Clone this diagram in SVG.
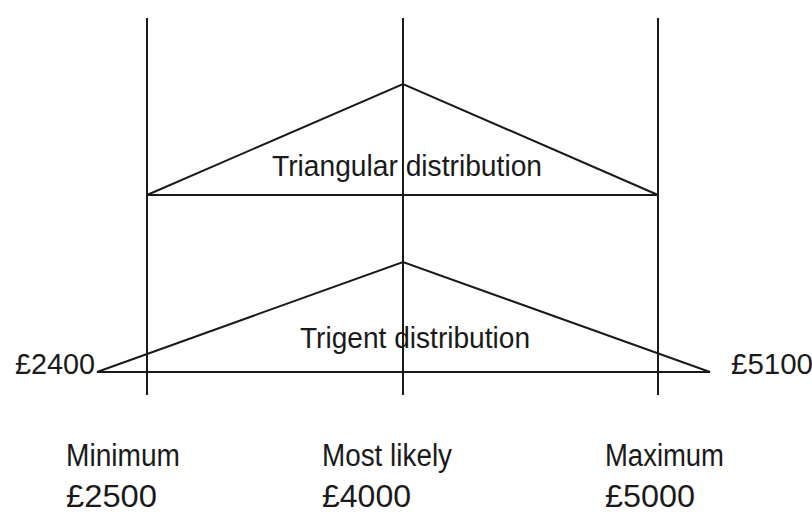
<svg xmlns="http://www.w3.org/2000/svg" width="812" height="516" viewBox="0 0 812 516">
<style>
.ln{stroke:#1a1a1a;stroke-width:2;fill:none}
.t{font-family:"Liberation Sans",Arial,sans-serif;font-size:29px;fill:#1a1a1a}
.b{font-size:31px}
</style>
<rect width="812" height="516" fill="#fff"/>
<g id="connectors">
<line class="ln" x1="147" y1="18" x2="147" y2="395"/>
<line class="ln" x1="403" y1="18" x2="403" y2="395"/>
<line class="ln" x1="658" y1="18" x2="658" y2="395"/>
</g>
<g id="triangular">
<polygon class="ln" points="147,195 403,84 658,195"/>
<text class="t" x="272" y="176" textLength="270" lengthAdjust="spacingAndGlyphs">Triangular distribution</text>
</g>
<g id="trigent">
<polygon class="ln" points="97,372 403,262 710,372"/>
<text class="t" x="300" y="348" textLength="230" lengthAdjust="spacingAndGlyphs">Trigent distribution</text>
<text class="t" x="15" y="374" textLength="80" lengthAdjust="spacingAndGlyphs">£2400</text>
<text class="t" x="731" y="374" textLength="82" lengthAdjust="spacingAndGlyphs">£5100</text>
</g>
<g id="labels">
<text class="t b" x="66" y="466" textLength="114" lengthAdjust="spacingAndGlyphs">Minimum</text>
<text class="t b" x="66" y="507" textLength="91" lengthAdjust="spacingAndGlyphs">£2500</text>
<text class="t b" x="322" y="466" textLength="130" lengthAdjust="spacingAndGlyphs">Most likely</text>
<text class="t b" x="322" y="507" textLength="89" lengthAdjust="spacingAndGlyphs">£4000</text>
<text class="t b" x="605" y="466" textLength="119" lengthAdjust="spacingAndGlyphs">Maximum</text>
<text class="t b" x="605" y="507" textLength="90" lengthAdjust="spacingAndGlyphs">£5000</text>
</g>
</svg>
